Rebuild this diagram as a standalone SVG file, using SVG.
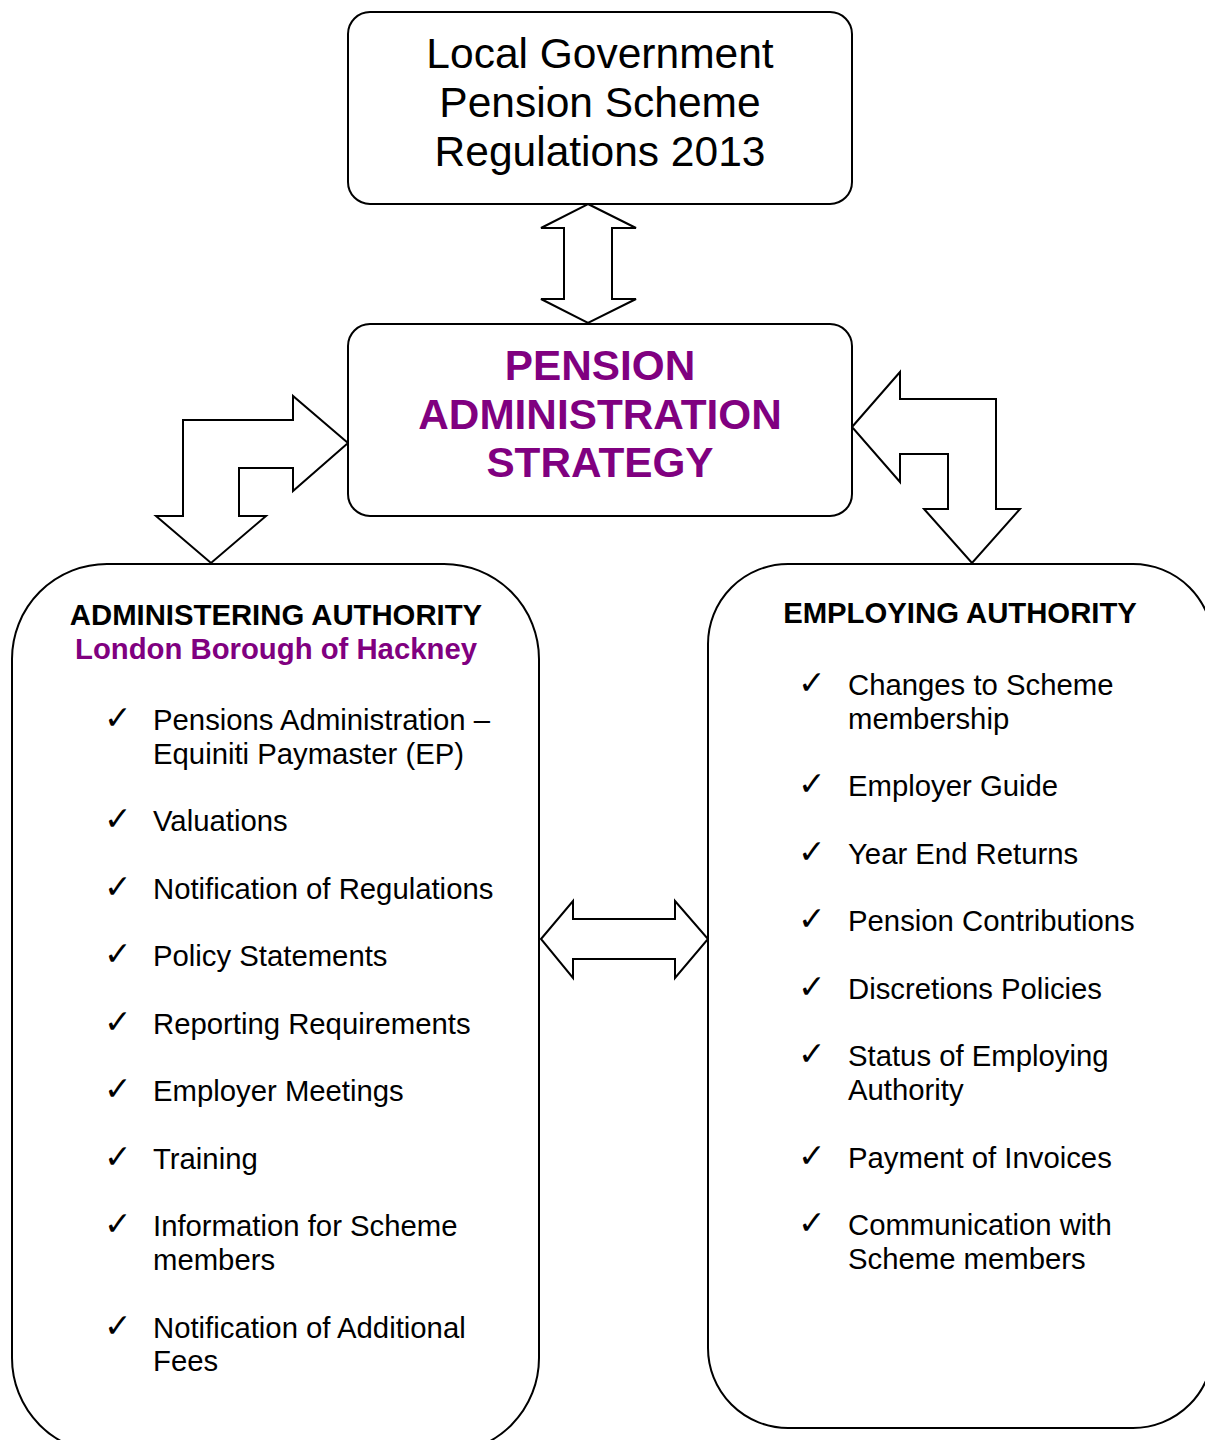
<svg xmlns="http://www.w3.org/2000/svg" width="1205" height="1440" viewBox="0 0 1205 1440">
<style>
.box{fill:#fff;stroke:#000;stroke-width:2}
.arr{fill:#fff;stroke:#000;stroke-width:2;stroke-linejoin:miter}
.t{font-family:"Liberation Sans",Arial,sans-serif;fill:#000}
.big{font-size:42.5px}
.hd{font-size:42.3px;font-weight:bold;fill:#800080}
.h{font-size:29.3px;font-weight:bold}
.p{fill:#800080}
.li{font-size:29.3px}
.ck{font-family:"DejaVu Sans",sans-serif;font-size:33px;fill:#000}
</style>
<rect width="1205" height="1440" fill="#fff"/>
<g id="connectors">
<polygon class="arr" points="588,204 636,228 612,228 612,299 636,299 588,323 541,299 564,299 564,228 541,228"/>
<polygon class="arr" points="183,516 183,420 293,420 293,396 348,443 293,491 293,468 239,468 239,516 266,516 211,563 156,516"/>
<polygon class="arr" points="852,427 900,372 900,399 996,399 996,509 1020,509 972,563 924,509 948,509 948,454 900,454 900,482"/>
<polygon class="arr" points="541,939 573,901 573,919 675,919 675,901 708,939 675,978 675,959 573,959 573,978"/>
</g>
<g id="regulations">
<rect class="box" x="348" y="12" width="504" height="192" rx="22"/>
<text class="t big" text-anchor="middle" x="600" y="68">Local Government</text>
<text class="t big" text-anchor="middle" x="600" y="117">Pension Scheme</text>
<text class="t big" text-anchor="middle" x="600" y="166">Regulations 2013</text>
</g>
<g id="strategy">
<rect class="box" x="348" y="324" width="504" height="192" rx="22"/>
<text class="t hd" text-anchor="middle" x="600" y="380">PENSION</text>
<text class="t hd" text-anchor="middle" x="600" y="429">ADMINISTRATION</text>
<text class="t hd" text-anchor="middle" x="600" y="477">STRATEGY</text>
</g>
<g id="administering">
<rect class="box" x="12" y="564" width="527" height="889" rx="95"/>
<text class="t h" text-anchor="middle" x="276" y="625">ADMINISTERING AUTHORITY</text>
<text class="t h p" text-anchor="middle" x="276" y="659">London Borough of Hackney</text>
<g class="ck">
<text x="104" y="729">✓</text>
<text x="104" y="830">✓</text>
<text x="104" y="898">✓</text>
<text x="104" y="965">✓</text>
<text x="104" y="1033">✓</text>
<text x="104" y="1100">✓</text>
<text x="104" y="1168">✓</text>
<text x="104" y="1235">✓</text>
<text x="104" y="1337">✓</text>
</g>
<g class="t li">
<text x="153" y="730">Pensions Administration –</text>
<text x="153" y="764">Equiniti Paymaster (EP)</text>
<text x="153" y="831">Valuations</text>
<text x="153" y="899">Notification of Regulations</text>
<text x="153" y="966">Policy Statements</text>
<text x="153" y="1034">Reporting Requirements</text>
<text x="153" y="1101">Employer Meetings</text>
<text x="153" y="1169">Training</text>
<text x="153" y="1236">Information for Scheme</text>
<text x="153" y="1270">members</text>
<text x="153" y="1338">Notification of Additional</text>
<text x="153" y="1371">Fees</text>
</g>
</g>
<g id="employing">
<rect class="box" x="708" y="564" width="505" height="864" rx="80"/>
<text class="t h" text-anchor="middle" x="960" y="623">EMPLOYING AUTHORITY</text>
<g class="ck">
<text x="798" y="694">✓</text>
<text x="798" y="795">✓</text>
<text x="798" y="863">✓</text>
<text x="798" y="930">✓</text>
<text x="798" y="998">✓</text>
<text x="798" y="1065">✓</text>
<text x="798" y="1167">✓</text>
<text x="798" y="1234">✓</text>
</g>
<g class="t li">
<text x="848" y="695">Changes to Scheme</text>
<text x="848" y="729">membership</text>
<text x="848" y="796">Employer Guide</text>
<text x="848" y="864">Year End Returns</text>
<text x="848" y="931">Pension Contributions</text>
<text x="848" y="999">Discretions Policies</text>
<text x="848" y="1066">Status of Employing</text>
<text x="848" y="1100">Authority</text>
<text x="848" y="1168">Payment of Invoices</text>
<text x="848" y="1235">Communication with</text>
<text x="848" y="1269">Scheme members</text>
</g>
</g>
</svg>
